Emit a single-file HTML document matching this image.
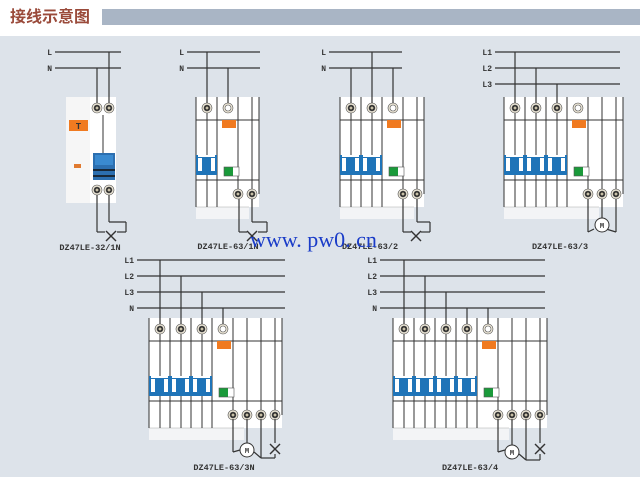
<!DOCTYPE html>
<html><head><meta charset="utf-8"><style>
html,body{margin:0;padding:0;width:640px;height:477px;overflow:hidden;background:#fff}
svg{display:block}
</style></head><body>
<svg id="s" width="640" height="477" xmlns="http://www.w3.org/2000/svg" font-family="Liberation Mono, monospace">
<rect x="0" y="0" width="640" height="477" fill="#dde3ea"/>
<rect x="0" y="0" width="640" height="36" fill="#fff"/>
<text x="10" y="22" font-family="Liberation Sans, Noto Sans CJK SC, sans-serif" font-size="16" font-weight="bold" fill="#9a4a3a">接线示意图</text>
<rect x="102" y="9" width="538" height="16" fill="#a9b5c5"/>
<g id="g"></g>
<text x="250" y="247" font-family="Liberation Serif, serif" font-size="22" fill="#1a3cc8">www. pw0. cn</text>
</svg>
<script>
var g=document.getElementById('g'),h='';
function L(x1,y1,x2,y2,w,c){h+='<line x1="'+x1+'" y1="'+y1+'" x2="'+x2+'" y2="'+y2+'" stroke="'+(c||'#333')+'" stroke-width="'+(w||1.2)+'"/>';}
function R(x,y,w,hh,f){h+='<rect x="'+x+'" y="'+y+'" width="'+w+'" height="'+hh+'" fill="'+f+'"/>';}
function T(x,y,s,sz,a){h+='<text x="'+x+'" y="'+y+'" font-size="'+(sz||8)+'" font-weight="bold" fill="#333" text-anchor="'+(a||'start')+'">'+s+'</text>';}
function term(x,y,white){h+='<circle cx="'+x+'" cy="'+y+'" r="5" fill="#ece6d6" stroke="#555" stroke-width="0.6"/>';
 h+='<circle cx="'+x+'" cy="'+y+'" r="3" fill="'+(white?'#fff':'#222')+'" stroke="#555" stroke-width="0.6"/>';
 if(!white)h+='<circle cx="'+x+'" cy="'+y+'" r="1.5" fill="#c8c0a8"/>';}
function X(x,y){L(x-5,y-5,x+5,y+5,1.4);L(x-5,y+5,x+5,y-5,1.4);}
function M(x,y){h+='<circle cx="'+x+'" cy="'+y+'" r="7" fill="#fff" stroke="#333"/>';T(x,y+3,'M',7,'middle');}
function lines(names,y0,x1,x2){names.forEach(function(n,i){var y=y0+16*i;T(x1-8,y+3,n,8,'end');L(x1-5,y,x2,y);});}
function mod(bx,ty,np,nb,label,lx){
 var ph=21,wL=ph*np+21,xb=bx+ph*(np+1),right=xb+14*(nb-1)+7;
 R(bx,ty,right-bx,110,'#fff');R(bx,ty+110,wL+11,12,'#f3f4f6');
 L(bx,ty+23,right,ty+23,1);L(bx,ty+83,right,ty+83,1);L(bx,ty+110,bx+wL+11,ty+110,0.6,'#aaa');
 for(var i=0;i<=np;i++){var x=bx+ph*i;L(x,ty,x,ty+110,1);}
 for(i=0;i<nb;i++){var x=xb+14*i;L(x,ty,x,ty+97,1);}
 L(right,ty,right,ty+97,1);
 for(i=0;i<np;i++){L(bx+11+ph*i,ty+16,bx+11+ph*i,ty+110,1);}
 R(bx,ty+58,ph*np,20,'#1f74b8');
 for(i=0;i<np;i++){var x=bx+ph*i;R(x+2,ty+61,4,13,'#fff');R(x+15,ty+61,4,13,'#fff');R(x+2,ty+58,17,2,'#fff');}
 var nx=bx+ph*np+11;
 R(nx-6,ty+23,14,8,'#f07a20');R(nx-4,ty+70,13,9,'#1a9a3a');R(nx+5,ty+70,6,9,'#fff');h+='<rect x="'+(nx-4)+'" y="'+(ty+70)+'" width="15" height="9" fill="none" stroke="#555" stroke-width="0.6"/>';
 for(i=0;i<np;i++){term(bx+11+ph*i,ty+11,false);}
 term(nx,ty+11,true);
 for(i=0;i<nb;i++)term(xb+14*i,ty+97,false);
 T(lx,ty+152,label,8.5,'middle');
}
lines(['L','N'],52,60,121);
R(66,97,50,106,'#fff');R(66,97,24,106,'#f6f6f6');
L(97,68,97,108);L(109,52,109,108);
term(97,108);term(109,108);term(97,190);term(109,190);
R(69,120,19,11,'#f07a20');T(78.5,129,'T',9,'middle');R(74,164,7,4,'#e07a30');
L(103,115,103,153,1);
R(93,153,22,27,'#2c6fb0');R(95,155,18,10,'#3a8ad0');L(93,170,115,170,1.5,'#111');L(93,176,115,176,1.5,'#111');
L(97,195,97,232);L(97,232,105,232);L(109,195,109,222);L(109,222,126,222);L(126,222,126,232);L(126,232,117,232);X(111,236);
T(90,250,'DZ47LE-32/1N',8.5,'middle');
lines(['L','N'],52,192,260);
mod(196,97,1,2,'DZ47LE-63/1N',228);
L(207,52,207,103);L(228,68,228,103);
L(239,199,239,232);L(239,232,247,232);L(252,199,252,222);L(252,222,267,222);L(267,222,267,232);L(267,232,258,232);X(252,236);
lines(['L','N'],52,334,402);
mod(340,97,2,2,'DZ47LE-63/2',370);
L(351,68,351,103);L(372,52,372,103);L(393,68,393,103);
L(403,199,403,232);L(403,232,411,232);L(417,199,417,222);L(417,222,430,222);L(430,222,430,232);L(430,232,421,232);X(416,236);
lines(['L1','L2','L3'],52,500,620);
mod(504,97,3,3,'DZ47LE-63/3',560);
L(515,52,515,103);L(536,68,536,103);L(557,84,557,103);
L(588,199,588,232);L(588,232,594,229);L(616,199,616,232);L(616,232,606,229);L(602,199,602,218);M(602,225);
lines(['L1','L2','L3','N'],260,142,285);
mod(149,318,3,4,'DZ47LE-63/3N',224);
L(160,260,160,324);L(181,276,181,324);L(202,292,202,324);L(223,308,223,324);
L(233,419,233,452);L(233,452,240,450);L(247,419,247,443);M(247,450);L(261,419,261,458);L(261,458,254,452);
L(275,419,275,443);X(275,449);L(261,458,275,458);L(275,458,275,454);
lines(['L1','L2','L3','N'],260,385,545);
mod(393,318,4,4,'DZ47LE-63/4',470);
L(404,260,404,324);L(425,276,425,324);L(446,292,446,324);L(467,308,467,324);L(488,308,488,324);
L(498,419,498,452);L(498,452,505,450);L(512,419,512,445);M(512,452);L(526,419,526,460);L(526,460,519,454);
L(540,419,540,443);X(540,449);L(526,460,540,460);L(540,460,540,454);
g.innerHTML=h;
</script>
</body></html>
